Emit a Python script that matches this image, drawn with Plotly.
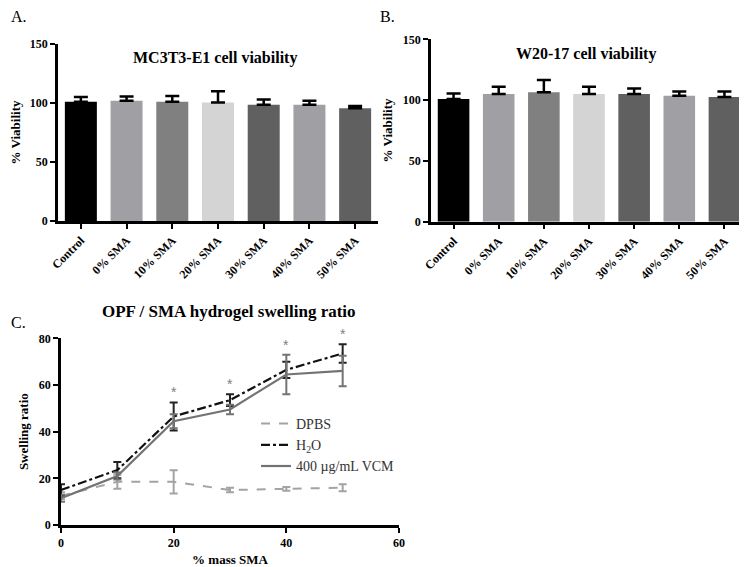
import plotly.graph_objects as go

# panel A / B: cell viability
groups = ["Control", "0% SMA", "10% SMA", "20% SMA", "30% SMA", "40% SMA", "50% SMA"]
bar_colors = ["#000000", "#a0a0a4", "#808080", "#d4d4d4", "#606060", "#a0a0a4", "#606060"]
mc3t3_mean = [101, 102, 101, 100.5, 98.5, 98.5, 95.5]
mc3t3_sd = [4, 3.5, 5, 9.5, 4.5, 3.5, 2]
w20_mean = [101, 105, 106.5, 105, 105, 103.5, 102.5]
w20_sd = [4.5, 6, 10, 6, 4.5, 3.5, 4.5]

# panel C: swelling ratio
sma_mass = [0, 10, 20, 30, 40, 50]
dpbs = [12.5, 18.5, 18.5, 15, 15.5, 16]
dpbs_sd = [1.5, 3, 5, 1, 0.8, 1.5]
h2o = [15, 23.5, 46.5, 53.5, 66.5, 73.5]
h2o_sd = [2.5, 3.5, 6, 2.5, 3.5, 4]
vcm = [11.5, 21, 44.5, 49.5, 64.5, 66]
vcm_sd = [1.5, 1.5, 3, 2, 8.5, 6.5]
starred = [20, 30, 40, 50]

SERIF = "Liberation Serif"
W, H = 739, 559  # page body has an 8px margin


def px_x(p):
    return (p - 8) / W


def px_y(p):
    return 1 - (p - 8) / H


fig = go.Figure()

for mean, sd, ax in [(mc3t3_mean, mc3t3_sd, ""), (w20_mean, w20_sd, "2")]:
    fig.add_trace(go.Bar(
        x=groups, y=mean, marker=dict(color=bar_colors, line=dict(width=0)),
        error_y=dict(type="data", array=sd, arrayminus=[0] * len(sd), symmetric=False,
                     color="black", thickness=2.5, width=7),
        xaxis="x" + ax, yaxis="y" + ax, showlegend=False))

fig.add_trace(go.Scatter(
    x=sma_mass, y=dpbs, mode="lines", name="DPBS",
    line=dict(color="#a3a3a3", width=2, dash="dash"),
    error_y=dict(type="data", array=dpbs_sd, color="#a3a3a3", thickness=2, width=4),
    xaxis="x3", yaxis="y3"))
fig.add_trace(go.Scatter(
    x=sma_mass, y=h2o, mode="lines", name="H<sub>2</sub>O",
    line=dict(color="#111111", width=2.2, dash="dashdot"),
    error_y=dict(type="data", array=h2o_sd, color="#222222", thickness=2, width=4),
    xaxis="x3", yaxis="y3"))
fig.add_trace(go.Scatter(
    x=sma_mass, y=vcm, mode="lines", name="400 µg/mL VCM",
    line=dict(color="#737373", width=2.2),
    error_y=dict(type="data", array=vcm_sd, color="#737373", thickness=2, width=4),
    xaxis="x3", yaxis="y3"))

# significance stars above the error bars
for xm in starred:
    i = sma_mass.index(xm)
    top = max(h2o[i] + h2o_sd[i], vcm[i] + vcm_sd[i])
    fig.add_annotation(x=xm, y=top, xref="x3", yref="y3", text="*", showarrow=False,
                       yanchor="bottom", yshift=0,
                       font=dict(family="Liberation Sans", size=14, color="#808080"))

tickfont = dict(family=SERIF, size=12, color="black", weight="bold")
titlefont = dict(family=SERIF, size=13, color="black", weight="bold")
axis_common = dict(showline=True, linecolor="black", linewidth=2.5, ticks="outside",
                   tickcolor="black", tickwidth=2, ticklen=5, showgrid=False,
                   zeroline=False, tickfont=tickfont, automargin=False)


def label(text, x, y, size, bold=False, anchor="center"):
    return dict(text=text, x=px_x(x), y=px_y(y), xref="paper", yref="paper",
                showarrow=False, xanchor=anchor, yanchor="middle",
                font=dict(family=SERIF, size=size, color="black",
                          weight="bold" if bold else "normal"))


fig.update_layout(
    width=W, height=H, plot_bgcolor="white", paper_bgcolor="white",
    margin=dict(l=0, r=0, t=0, b=0), bargap=0.3,
    xaxis=dict(axis_common, domain=[px_x(58), px_x(378)], anchor="y", tickangle=-45,
               range=[-0.5, 6.5]),
    yaxis=dict(axis_common, domain=[px_y(221), px_y(44)], anchor="x", range=[0, 150],
               tickvals=[0, 50, 100, 150],
               title=dict(text="% Viability", font=titlefont, standoff=8)),
    xaxis2=dict(axis_common, domain=[px_x(431), 1.0], anchor="y2", tickangle=-45,
                range=[-0.5, 6.5]),
    yaxis2=dict(axis_common, domain=[px_y(221.7), px_y(39.3)], anchor="x2", range=[0, 150],
                tickvals=[0, 50, 100, 150],
                title=dict(text="% Viability", font=titlefont, standoff=8)),
    xaxis3=dict(axis_common, domain=[px_x(61), px_x(399)], anchor="y3", range=[0, 60],
                tickvals=[0, 20, 40, 60],
                title=dict(text="% mass SMA", font=titlefont, standoff=6)),
    yaxis3=dict(axis_common, domain=[px_y(525), px_y(338.3)], anchor="x3", range=[0, 80],
                tickvals=[0, 20, 40, 60, 80],
                title=dict(text="Swelling ratio", font=titlefont, standoff=8)),
    legend=dict(x=px_x(256), y=px_y(408), xanchor="left", yanchor="top",
                bgcolor="rgba(0,0,0,0)",
                font=dict(family=SERIF, size=14, color="#333333"), tracegroupgap=4,
                itemwidth=30),
    annotations=list(fig.layout.annotations) + [
        label("A.", 9, 17, 16, anchor="left"),
        label("B.", 378, 17, 16, anchor="left"),
        label("C.", 9, 322, 16, anchor="left"),
        label("MC3T3-E1 cell viability", 215, 58, 16, bold=True),
        label("W20-17 cell viability", 586, 54, 16, bold=True),
        label("OPF / SMA hydrogel swelling ratio", 229, 311, 17, bold=True),
    ],
)

fig.write_html("out.html")
